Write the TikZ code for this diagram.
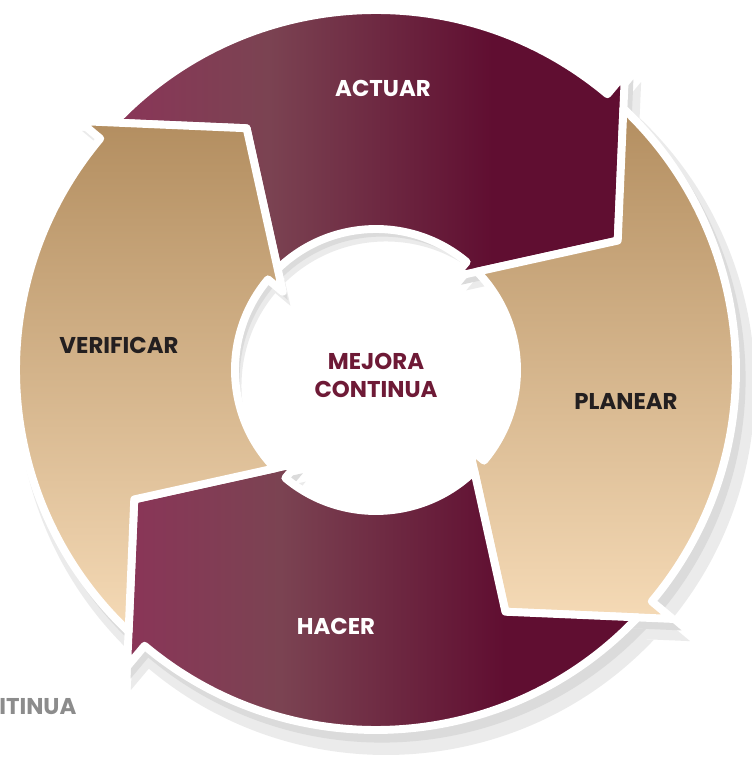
\documentclass[tikz,border=0pt]{standalone}
\usepackage{fontspec}
\setmainfont{Poppins}
\definecolor{vino}{HTML}{600E31}
\definecolor{vinoclaro}{HTML}{8A3558}
\definecolor{vinomedio}{HTML}{7B4352}
\definecolor{arena}{HTML}{B38E60}
\definecolor{arenaclara}{HTML}{F5DAB6}
\definecolor{tinta}{HTML}{231F20}
\definecolor{letravino}{HTML}{6E1A36}
\definecolor{gris}{HTML}{8C8C8C}
\pgfdeclarehorizontalshading{vinosh}{100bp}{color(0bp)=(vinoclaro); color(25bp)=(vinoclaro);
	color(40bp)=(vinomedio); color(62bp)=(vino); color(100bp)=(vino)}

% one piece of the ring, #1 = angle of the back of its head
\newcommand{\pieza}[1]{
	({#1+86.59}:360) arc[start angle={#1+86.59}, end angle={#1}, radius=360]
	-- (#1:387.25) -- ({#1-21.84}:274.2) -- (#1:121.75) -- (#1:141)
	arc[start angle={#1}, end angle={#1+84.2}, radius=141]
	-- ({#1+68.16}:274.2) -- cycle}

\begin{document}
\begin{tikzpicture}[x=0.02cm, y=0.02cm, line join=round,
	pieza/.style={draw=white, line width=4.5pt},
	vinotinto/.style={shading=vinosh},
	dorado/.style={top color=arena, bottom color=arenaclara},
	rotulo/.style={font=\fontsize{13}{16.2}\selectfont\bfseries, inner sep=0pt}]
	\useasboundingbox (-376,-387) rectangle (375,370);
	\begin{scope}[shift={(10,-16)}, scale=1.025]
		\foreach \b in {50,-40,-130,140}
			\fill[black!8] \pieza{\b};
	\end{scope}
	\begin{scope}[shift={(6,-9)}, scale=1.01]
		\foreach \b in {50,-40,-130,140}
			\fill[black!14] \pieza{\b};
	\end{scope}
	\foreach \b/\tono in {50/vinotinto, -40/dorado, -130/vinotinto, 140/dorado}
		\path[pieza, \tono] \pieza{\b};
	\node[rotulo, white] (actuar) at (7,282) {ACTUAR};
	\node[rotulo, tinta] (planear) at (250,-31) {PLANEAR};
	\node[rotulo, white] (hacer) at (-40,-256) {HACER};
	\node[rotulo, tinta] (verificar) at (-257,25) {VERIFICAR};
	\node[rotulo, letravino, align=center] (centro) at (0,-5.5) {MEJORA\\CONTINUA};
	\node[rotulo, gris, anchor=west] (resto) at (-377,-337) {ITINUA};
\end{tikzpicture}
\end{document}
